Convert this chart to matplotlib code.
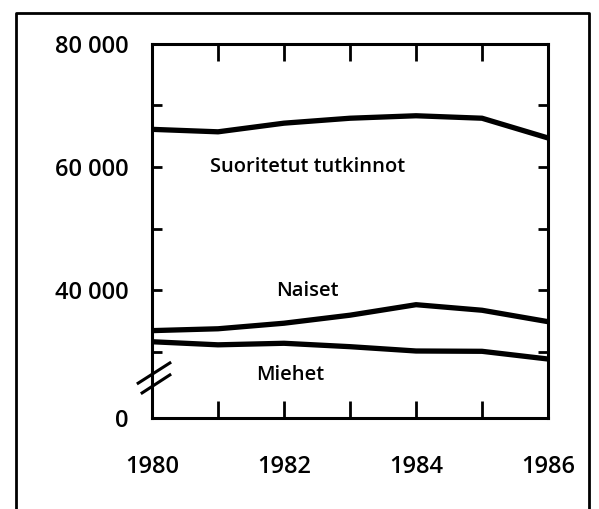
import matplotlib
matplotlib.use("Agg")
import matplotlib.pyplot as plt
from matplotlib.lines import Line2D

# data
years = [1980, 1981, 1982, 1983, 1984, 1985, 1986]
total = [66100, 65700, 67100, 67900, 68300, 67900, 64700]
women = [33500, 33800, 34700, 36000, 37700, 36800, 34950]
men = [31700, 31200, 31450, 30900, 30200, 30150, 28900]

y_bottom = 19350  # broken axis, bottom labelled "0"
ytick_values = [y_bottom, 30000, 40000, 50000, 60000, 70000, 80000]
ytick_labels = ["0", "", "40 000", "", "60 000", "", "80 000"]
xtick_values = [1980, 1981, 1982, 1983, 1984, 1985, 1986]
xtick_labels = ["1980", "", "1982", "", "1984", "", "1986"]

plt.rcParams["font.family"] = ["Open Sans", "DejaVu Sans"]

fig = plt.figure(figsize=(5.99, 5.09), dpi=100)
ax = fig.add_axes([0.2538, 0.1788, 0.6611, 0.7357])

for series in (total, women, men):
    ax.plot(years, series, color="black", lw=3.8, solid_capstyle="butt")

ax.set_xlim(1980, 1986)
ax.set_ylim(y_bottom, 80000)

ax.set_xticks(xtick_values)
ax.set_xticklabels(xtick_labels)
ax.set_yticks(ytick_values)
ax.set_yticklabels(ytick_labels)

ax.tick_params(axis="x", direction="in", length=12, width=2, top=True,
               pad=27, labelsize=17)
ax.tick_params(axis="y", direction="in", length=7, width=2, right=True,
               pad=17, labelsize=17)
for lab in ax.get_xticklabels() + ax.get_yticklabels():
    lab.set_fontweight("semibold")

for sp in ax.spines.values():
    sp.set_linewidth(2.2)

# axis break marks
for x0, y0, x1, y1 in [(-0.035, 0.093, 0.045, 0.147), (-0.025, 0.067, 0.045, 0.115)]:
    ax.add_line(Line2D([x0, x1], [y0, y1], transform=ax.transAxes,
                       color="black", lw=2.2, clip_on=False))

ax.text(1982.35, 60000, "Suoritetut tutkinnot", ha="center", va="center",
        fontsize=14.5, fontweight="semibold")
ax.text(1982.35, 39900, "Naiset", ha="center", va="center",
        fontsize=14.5, fontweight="semibold")
ax.text(1982.1, 26300, "Miehet", ha="center", va="center",
        fontsize=14.5, fontweight="semibold")

# outer frame (bottom edge runs off the picture)
fx0, fx1 = 16 / 599, 589 / 599
fy_top = 1 - 13 / 509
fig.add_artist(Line2D([fx0, fx0, fx1, fx1], [-0.05, fy_top, fy_top, -0.05],
                      transform=fig.transFigure, color="black", lw=2))

fig.savefig("out.png", dpi=100)
